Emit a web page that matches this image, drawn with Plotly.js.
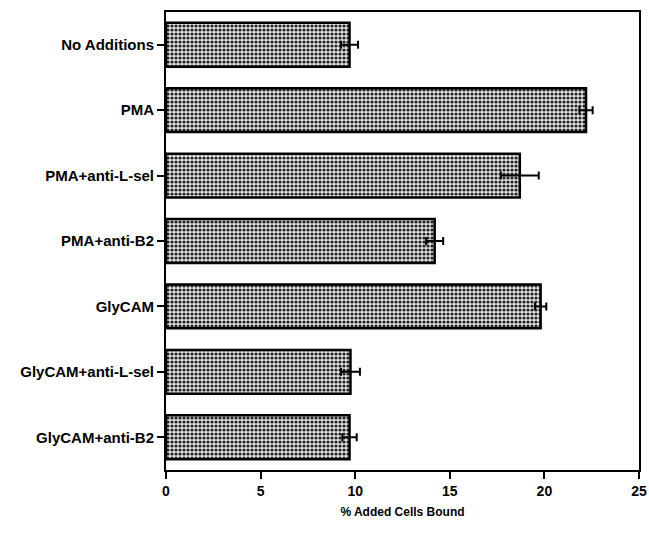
<!DOCTYPE html>
<html>
<head>
<meta charset="utf-8">
<script src="https://cdn.plot.ly/plotly-3.0.1.min.js"></script>
<style>html,body{margin:0;padding:0;background:#fff;}#chart{width:649px;height:534px;}</style>
</head>
<body>
<div id="chart"></div>
<script>
const categories = ["No Additions","PMA","PMA+anti-L-sel","PMA+anti-B2","GlyCAM","GlyCAM+anti-L-sel","GlyCAM+anti-B2"];
const values = [9.7, 22.2, 18.7, 14.2, 19.8, 9.75, 9.7];
const errors = [0.45, 0.35, 1.0, 0.45, 0.3, 0.5, 0.38];
const xTicks = [0, 5, 10, 15, 20, 25];
const xTitle = "% Added Cells Bound";

const fam = "Liberation Sans, Arial, sans-serif";

const trace = {
  type: "bar",
  orientation: "h",
  y: categories,
  x: values,
  error_x: {type: "data", array: errors, visible: true, color: "#000", thickness: 2, width: 4},
  marker: {
    color: "#e2e2e2",
    line: {color: "#000", width: 2.5},
    pattern: {shape: ".", fgcolor: "#222", bgcolor: "#e4e4e4", size: 4, solidity: 0.5}
  },
  hoverinfo: "none"
};

const layout = {
  width: 649, height: 534,
  margin: {l: 166, r: 10, t: 12, b: 64},
  paper_bgcolor: "#fff", plot_bgcolor: "#fff",
  showlegend: false,
  bargap: 0.33,
  font: {family: fam, size: 13, color: "#000"},
  xaxis: {
    range: [0, 25],
    tickvals: xTicks,
    ticktext: xTicks.map(String),
    ticks: "outside", ticklen: 7, tickwidth: 2, tickcolor: "#000",
    showline: true, linecolor: "#000", linewidth: 2, mirror: true,
    showgrid: false, zeroline: false,
    tickfont: {family: fam, size: 14, color: "#000", weight: "bold"},
    title: {text: xTitle, font: {family: fam, size: 12, color: "#000", weight: "bold"}, standoff: 10}
  },
  yaxis: {
    autorange: false,
    range: [6.5, -0.5],
    type: "category",
    categoryorder: "array", categoryarray: categories,
    ticks: "outside", ticklen: 7, tickwidth: 2, tickcolor: "#000",
    showline: true, linecolor: "#000", linewidth: 2, mirror: true,
    showgrid: false, zeroline: false,
    tickfont: {family: fam, size: 15, color: "#000", weight: "bold"}
  }
};

Plotly.newPlot("chart", [trace], layout, {staticPlot: true, displayModeBar: false});
</script>
</body>
</html>
